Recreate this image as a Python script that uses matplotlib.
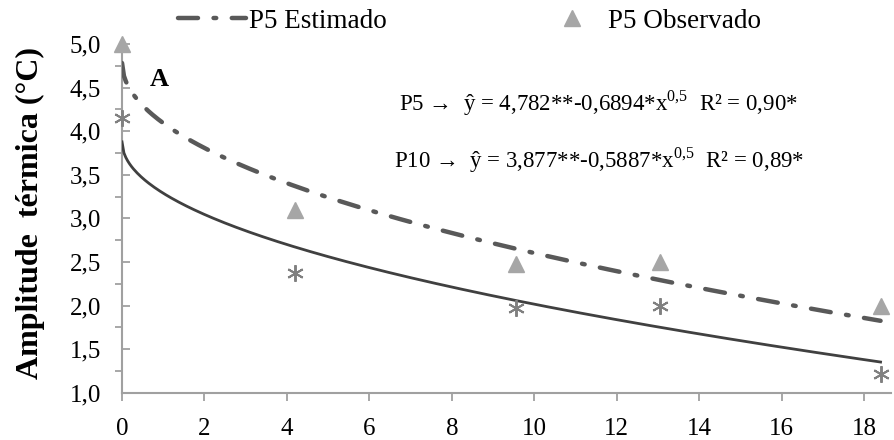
import numpy as np
import matplotlib
matplotlib.use("Agg")
import matplotlib.pyplot as plt
from matplotlib.ticker import MultipleLocator, FuncFormatter

plt.rcParams['font.family'] = ['Liberation Serif', 'DejaVu Serif']
plt.rcParams['mathtext.fontset'] = 'custom'
plt.rcParams['mathtext.rm'] = 'Liberation Serif'

# Data
x_obs = [0, 4.2, 9.55, 13.05, 18.4]
p5_obs = [5.0, 3.1, 2.48, 2.5, 2.0]
p10_obs = [4.15, 2.37, 1.97, 2.0, 1.22]
p5_coef = (4.782, 0.6894)
p10_coef = (3.877, 0.5887)
x_ticks = [0, 2, 4, 6, 8, 10, 12, 14, 16, 18]
y_ticks = [1.0, 1.5, 2.0, 2.5, 3.0, 3.5, 4.0, 4.5, 5.0]

fig = plt.figure(figsize=(8.94, 4.4), dpi=100)
ax = fig.add_axes([0.1365, 0.1075, 0.86, 0.7925])

xs = np.linspace(0, 18.4, 400)
ax.plot(xs, p5_coef[0] - p5_coef[1] * np.sqrt(xs), color='#595959', lw=3.2,
        dashes=(4.5, 3.5, 0.6, 3.5), dash_capstyle='round', label='P5 Estimado', zorder=3)
ax.plot(xs, p10_coef[0] - p10_coef[1] * np.sqrt(xs), color='#404040', lw=2.0, zorder=3)
ax.plot(x_obs, p5_obs, linestyle='none', marker='^', ms=11, color='#a6a6a6',
        label='P5 Observado', zorder=4, clip_on=False)
ax.plot(x_obs, p10_obs, linestyle='none', marker=(6, 2, 0), ms=12, mew=1.4,
        color='#808080', zorder=4, clip_on=False)

ax.set_xlim(0, 18.65)
ax.set_ylim(1.0, 5.0)
ax.set_xticks(x_ticks)
ax.set_yticks(y_ticks)
ax.yaxis.set_minor_locator(MultipleLocator(0.25))
ax.yaxis.set_major_formatter(FuncFormatter(lambda v, p: f"{v:.1f}".replace('.', ',')))
for s in ['top', 'right']:
    ax.spines[s].set_visible(False)
for s in ['left', 'bottom']:
    ax.spines[s].set_color('#a0a0a0')
    ax.spines[s].set_linewidth(1.5)
ax.tick_params(axis='x', direction='out', length=6, width=1.3, color='#a0a0a0',
               labelsize=18, pad=12)
ax.tick_params(axis='y', which='major', direction='in', length=6, width=1.3,
               color='#a0a0a0', labelsize=18, pad=15)
ax.tick_params(axis='y', which='minor', direction='out', length=5, width=1.3,
               color='#a0a0a0')

ax.set_ylabel('Amplitude  térmica (°C)', fontsize=23, fontweight='bold')
ax.yaxis.set_label_coords(-0.1, 0.515)

ax.text(0.68, 4.59, 'A', fontsize=19, fontweight='bold', va='center')
ax.text(6.72, 4.32, 'P5 →  ŷ = 4,782**-0,6894*x$^{0{,}5}$  R² = 0,90*', fontsize=16.5, va='center')
ax.text(6.6, 3.67, 'P10 →  ŷ = 3,877**-0,5887*x$^{0{,}5}$  R² = 0,89*', fontsize=16.5, va='center')

leg = fig.legend(loc='upper left', bbox_to_anchor=(0.172, 1.035), ncol=2, frameon=False,
                 fontsize=19.5, handlelength=2.5, columnspacing=5.6, handletextpad=0.1)

fig.savefig('out.png', dpi=100)
